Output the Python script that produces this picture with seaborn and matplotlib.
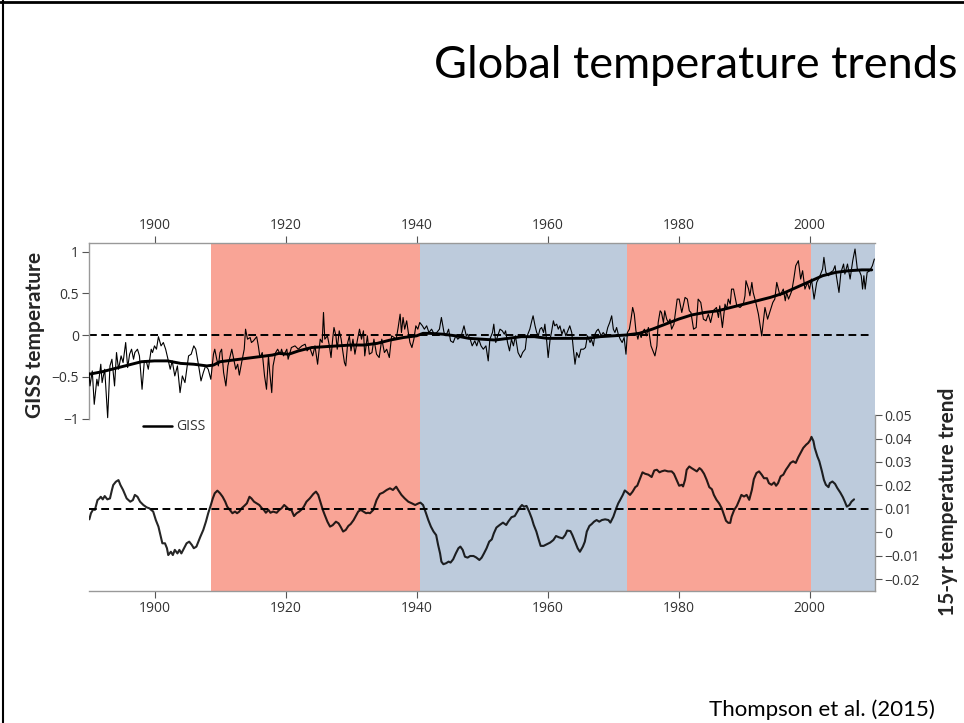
"""
Global temperature trends (GISS) - recreation with seaborn
"""
import matplotlib
matplotlib.use("Agg")
import matplotlib.pyplot as plt
from matplotlib.lines import Line2D
import pandas as pd
import seaborn as sns

# ---- data ----
# thin GISS curve (year, anomaly)
giss_year = [
    1890.0, 1890.15, 1890.5, 1890.8, 1891.2, 1891.4, 1891.8, 1892.0, 1892.4, 1892.85,
    1893.2, 1893.5, 1893.9, 1894.2, 1894.5, 1894.9, 1895.2, 1895.6, 1895.9, 1896.2,
    1896.5, 1896.8, 1897.0, 1897.4, 1897.7, 1898.1, 1898.45, 1898.8, 1899.05, 1899.5,
    1899.7, 1900.0, 1900.3, 1900.6, 1901.0, 1901.35, 1901.7, 1902.0, 1902.4, 1902.7,
    1903.1, 1903.5, 1903.9, 1904.25, 1904.65, 1905.2, 1905.6, 1906.0, 1906.3, 1906.7,
    1907.1, 1907.45, 1907.8, 1908.2, 1908.6, 1909.0, 1909.2, 1909.5, 1909.75, 1910.0,
    1910.25, 1910.55, 1910.9, 1911.2, 1911.5, 1911.8, 1912.0, 1912.4, 1912.7, 1912.95,
    1913.3, 1913.7, 1913.9, 1914.2, 1914.6, 1914.8, 1915.1, 1915.6, 1915.85, 1916.1,
    1916.45, 1916.8, 1917.1, 1917.4, 1917.6, 1917.9, 1918.1, 1918.5, 1918.8, 1919.2,
    1919.4, 1919.7, 1920.2, 1920.4, 1920.9, 1921.45, 1921.95, 1922.5, 1923.0, 1923.3,
    1923.7, 1924.15, 1924.5, 1924.9, 1925.3, 1925.6, 1925.8, 1926.0, 1926.4, 1926.7,
    1926.95, 1927.2, 1927.4, 1927.7, 1927.9, 1928.2, 1928.5, 1928.7, 1929.0, 1929.2,
    1929.5, 1929.75, 1930.0, 1930.3, 1930.6, 1931.0, 1931.3, 1931.6, 1931.9, 1932.1,
    1932.5, 1932.8, 1933.2, 1933.5, 1933.9, 1934.3, 1934.7, 1935.1, 1935.45, 1935.85,
    1936.2, 1936.6, 1936.9, 1937.2, 1937.5, 1937.7, 1937.95, 1938.2, 1938.5, 1938.75,
    1939.0, 1939.3, 1939.6, 1939.9, 1940.2, 1940.5, 1940.9, 1941.2, 1941.55, 1941.9,
    1942.3, 1942.7, 1943.1, 1943.5, 1943.8, 1944.2, 1944.5, 1944.9, 1945.2, 1945.6,
    1946.0, 1946.3, 1946.6, 1946.9, 1947.25, 1947.6, 1947.8, 1948.2, 1948.5, 1948.9,
    1949.2, 1949.5, 1949.85, 1950.2, 1950.6, 1950.95, 1951.2, 1951.6, 1951.8, 1952.1,
    1952.4, 1952.75, 1953.1, 1953.4, 1953.6, 1953.9, 1954.2, 1954.5, 1954.8, 1955.1,
    1955.5, 1955.9, 1956.2, 1956.6, 1956.8, 1957.1, 1957.3, 1957.6, 1957.8, 1958.1,
    1958.35, 1958.6, 1958.85, 1959.1, 1959.4, 1959.6, 1959.9, 1960.1, 1960.4, 1960.6,
    1960.9, 1961.1, 1961.4, 1961.65, 1961.9, 1962.2, 1962.5, 1962.8, 1963.1, 1963.4,
    1963.7, 1963.95, 1964.2, 1964.45, 1964.8, 1965.1, 1965.5, 1965.8, 1966.1, 1966.5,
    1966.7, 1967.0, 1967.25, 1967.5, 1967.75, 1968.2, 1968.5, 1968.9, 1969.2, 1969.5,
    1969.8, 1970.05, 1970.3, 1970.55, 1970.8, 1971.1, 1971.4, 1971.7, 1971.98, 1972.2,
    1972.5, 1972.75, 1973.0, 1973.25, 1973.5, 1973.8, 1974.0, 1974.3, 1974.5, 1974.8,
    1975.1, 1975.4, 1975.8, 1976.2, 1976.4, 1976.7, 1976.9, 1977.2, 1977.4, 1977.7,
    1977.9, 1978.2, 1978.45, 1978.7, 1978.95, 1979.3, 1979.8, 1980.1, 1980.5, 1981.0,
    1981.35, 1981.65, 1981.9, 1982.3, 1982.7, 1983.0, 1983.4, 1983.8, 1984.2, 1984.55,
    1984.9, 1985.3, 1985.8, 1986.1, 1986.3, 1986.7, 1987.1, 1987.35, 1987.6, 1987.9,
    1988.1, 1988.4, 1988.6, 1988.9, 1989.4, 1989.9, 1990.15, 1990.3, 1990.7, 1990.9,
    1991.2, 1991.4, 1991.8, 1992.2, 1992.7, 1993.2, 1993.6, 1994.0, 1994.4, 1994.7,
    1995.0, 1995.25, 1995.5, 1996.0, 1996.3, 1996.5, 1996.8, 1997.3, 1997.6, 1997.9,
    1998.3, 1998.65, 1998.95, 1999.3, 1999.7, 2000.0, 2000.3, 2000.7, 2001.1, 2001.6,
    2002.0, 2002.2, 2002.5, 2002.9, 2003.2, 2003.6, 2003.9, 2004.1, 2004.5, 2004.8,
    2005.2, 2005.4, 2005.8, 2006.2, 2006.6, 2006.95, 2007.3, 2007.6, 2007.9, 2008.1,
    2008.3, 2008.5, 2008.8, 2009.2, 2009.6, 2009.9,
]
giss_temp = [
    -0.45, -0.61, -0.43, -0.83, -0.53, -0.61, -0.35, -0.57, -0.41, -0.99,
    -0.37, -0.29, -0.61, -0.21, -0.41, -0.25, -0.33, -0.09, -0.39, -0.23,
    -0.17, -0.29, -0.21, -0.17, -0.25, -0.65, -0.31, -0.33, -0.41, -0.17,
    -0.21, -0.13, -0.17, -0.02, -0.13, -0.09, -0.17, -0.27, -0.41, -0.31,
    -0.49, -0.37, -0.69, -0.49, -0.57, -0.25, -0.23, -0.13, -0.17, -0.35,
    -0.55, -0.45, -0.37, -0.41, -0.53, -0.23, -0.17, -0.29, -0.37, -0.21,
    -0.17, -0.45, -0.61, -0.37, -0.27, -0.17, -0.25, -0.41, -0.35, -0.48,
    -0.33, -0.17, 0.07, -0.05, -0.03, -0.09, -0.07, -0.02, -0.13, -0.27,
    -0.21, -0.49, -0.65, -0.25, -0.45, -0.69, -0.37, -0.21, -0.17, -0.23,
    -0.17, -0.25, -0.17, -0.29, -0.15, -0.13, -0.17, -0.13, -0.11, -0.19,
    -0.15, -0.25, -0.13, -0.35, -0.05, -0.09, 0.27, -0.05, -0.01, -0.13,
    -0.27, -0.05, 0.09, -0.01, -0.17, 0.05, -0.05, -0.17, -0.33, -0.37,
    -0.09, -0.01, -0.19, -0.05, -0.23, -0.05, 0.07, -0.05, 0.05, -0.25,
    -0.01, -0.23, -0.21, -0.05, -0.23, -0.27, -0.05, -0.21, -0.17, -0.27,
    -0.01, -0.03, -0.05, 0.09, 0.25, 0.03, 0.21, 0.07, 0.17, 0.03,
    -0.09, -0.15, -0.05, 0.11, 0.07, 0.15, 0.11, 0.07, 0.11, 0.03,
    0.07, 0.01, 0.03, 0.07, 0.21, 0.03, -0.01, 0.07, -0.07, -0.09,
    -0.01, -0.05, -0.03, 0.01, 0.11, -0.01, 0.01, -0.05, -0.13, -0.07,
    -0.13, -0.05, -0.13, -0.17, -0.13, -0.31, -0.05, 0.03, 0.13, -0.09,
    -0.01, 0.07, 0.05, 0.01, 0.05, -0.09, -0.19, -0.05, -0.13, -0.01,
    -0.21, -0.27, -0.21, -0.17, -0.03, 0.03, 0.07, 0.17, 0.23, 0.11,
    0.03, -0.01, 0.07, 0.09, 0.03, 0.13, -0.09, -0.27, -0.05, 0.03,
    0.17, 0.11, 0.13, 0.07, 0.11, 0.01, 0.07, -0.01, 0.05, 0.11,
    0.03, -0.17, -0.35, -0.21, -0.27, -0.17, -0.17, -0.15, -0.01, -0.09,
    -0.05, -0.13, 0.01, 0.05, 0.07, -0.01, 0.03, -0.01, 0.09, 0.15,
    0.23, 0.07, 0.03, 0.09, 0.01, -0.05, -0.09, -0.03, -0.23, 0.03,
    0.07, 0.19, 0.33, 0.25, 0.05, -0.05, 0.03, -0.03, 0.03, 0.07,
    -0.01, 0.09, -0.13, -0.21, -0.25, -0.13, 0.15, 0.29, 0.27, 0.15,
    0.29, 0.19, 0.15, 0.19, 0.07, 0.13, 0.43, 0.43, 0.27, 0.45,
    0.43, 0.29, 0.27, 0.07, 0.09, 0.43, 0.39, 0.19, 0.17, 0.25,
    0.15, 0.29, 0.33, 0.21, 0.35, 0.09, 0.37, 0.31, 0.43, 0.37,
    0.55, 0.55, 0.47, 0.35, 0.33, 0.37, 0.47, 0.65, 0.55, 0.47,
    0.63, 0.51, 0.39, 0.25, -0.01, 0.33, 0.19, 0.29, 0.39, 0.43,
    0.63, 0.55, 0.47, 0.55, 0.41, 0.51, 0.43, 0.53, 0.67, 0.83,
    0.89, 0.67, 0.77, 0.55, 0.63, 0.55, 0.67, 0.43, 0.63, 0.71,
    0.79, 0.93, 0.75, 0.71, 0.75, 0.77, 0.83, 0.71, 0.51, 0.75,
    0.85, 0.73, 0.85, 0.67, 0.89, 1.03, 0.79, 0.77, 0.71, 0.55,
    0.71, 0.55, 0.75, 0.77, 0.83, 0.91,
]

# thick smoothed GISS curve
smooth_year = [
    1890, 1892, 1894, 1896, 1898, 1900, 1902, 1904, 1906, 1908, 1909, 1910, 1912,
    1914, 1916, 1918, 1919, 1920.5, 1922, 1924, 1926, 1928, 1930, 1932, 1934, 1936,
    1938, 1940, 1941, 1942, 1944, 1946, 1948, 1950, 1952, 1954, 1956, 1958, 1960,
    1962, 1964, 1966, 1968, 1970, 1972, 1974, 1976, 1978, 1980, 1982, 1984, 1986,
    1988, 1990, 1992, 1994, 1996, 1998, 2000, 2002, 2004, 2006, 2008, 2009.5,
]
smooth_temp = [
    -0.47, -0.44, -0.40, -0.36, -0.32, -0.31, -0.31, -0.34, -0.35, -0.37, -0.36, -0.32, -0.30,
    -0.28, -0.26, -0.24, -0.22, -0.23, -0.19, -0.15, -0.14, -0.13, -0.12, -0.12, -0.10, -0.06,
    -0.03, -0.01, 0.02, 0.02, 0.01, -0.01, -0.04, -0.05, -0.06, -0.04, -0.02, -0.02, -0.04,
    -0.04, -0.04, -0.04, -0.02, -0.01, 0.00, 0.02, 0.07, 0.13, 0.19, 0.24, 0.27, 0.29,
    0.33, 0.37, 0.41, 0.45, 0.50, 0.57, 0.64, 0.71, 0.75, 0.77, 0.78, 0.78,
]

# 15-yr trend curve (units: per year)
trend_year = [
    1890.05, 1890.3, 1890.65, 1890.9, 1891.3, 1891.6, 1891.8, 1892.1, 1892.4, 1892.8,
    1893.2, 1893.5, 1893.7, 1894.1, 1894.5, 1894.8, 1895.2, 1895.75, 1896.3, 1896.7,
    1897.0, 1897.4, 1897.8, 1898.3, 1898.8, 1899.2, 1899.5, 1899.8, 1900.2, 1900.6,
    1900.9, 1901.2, 1901.6, 1901.9, 1902.1, 1902.5, 1902.8, 1903.1, 1903.5, 1903.8,
    1904.1, 1904.5, 1904.9, 1905.3, 1905.7, 1906.0, 1906.4, 1906.7, 1907.0, 1907.45,
    1907.85, 1908.2, 1908.6, 1908.9, 1909.2, 1909.6, 1910.0, 1910.4, 1910.8, 1911.1,
    1911.5, 1911.9, 1912.3, 1912.6, 1912.95, 1913.3, 1913.7, 1914.1, 1914.5, 1914.8,
    1915.2, 1915.6, 1916.0, 1916.4, 1916.7, 1917.0, 1917.4, 1917.7, 1918.1, 1918.65,
    1919.05, 1919.4, 1919.8, 1920.2, 1920.6, 1920.9, 1921.3, 1921.7, 1922.1, 1922.5,
    1922.8, 1923.2, 1923.7, 1924.25, 1924.65, 1925.0, 1925.4, 1925.7, 1926.0, 1926.4,
    1926.8, 1927.2, 1927.7, 1928.1, 1928.4, 1928.8, 1929.2, 1929.6, 1929.95, 1930.4,
    1930.8, 1931.1, 1931.5, 1931.9, 1932.3, 1932.6, 1932.9, 1933.4, 1933.9, 1934.4,
    1934.9, 1935.45, 1935.95, 1936.4, 1936.9, 1937.2, 1937.7, 1938.2, 1938.75, 1939.3,
    1939.8, 1940.3, 1940.6, 1941.0, 1941.45, 1941.8, 1942.2, 1942.6, 1943.0, 1943.3,
    1943.6, 1943.8, 1944.1, 1944.5, 1944.9, 1945.2, 1945.6, 1946.0, 1946.4, 1946.7,
    1947.05, 1947.4, 1947.8, 1948.2, 1948.7, 1949.1, 1949.6, 1949.95, 1950.3, 1950.7,
    1951.1, 1951.5, 1951.8, 1952.2, 1952.7, 1953.2, 1953.7, 1954.0, 1954.5, 1955.0,
    1955.4, 1955.8, 1956.1, 1956.4, 1956.8, 1957.2, 1957.6, 1957.9, 1958.3, 1958.6,
    1958.95, 1959.4, 1959.9, 1960.4, 1960.9, 1961.3, 1961.8, 1962.3, 1962.7, 1963.0,
    1963.5, 1963.8, 1964.2, 1964.6, 1964.95, 1965.4, 1965.7, 1966.0, 1966.4, 1966.75,
    1967.1, 1967.5, 1967.9, 1968.3, 1968.8, 1969.3, 1969.6, 1970.05, 1970.5, 1970.8,
    1971.1, 1971.5, 1971.8, 1972.2, 1972.6, 1973.0, 1973.4, 1973.7, 1974.1, 1974.5,
    1974.9, 1975.4, 1975.9, 1976.3, 1976.7, 1977.1, 1977.4, 1977.9, 1978.4, 1978.96,
    1979.3, 1979.7, 1980.1, 1980.5, 1980.7, 1981.0, 1981.25, 1981.65, 1982.0, 1982.4,
    1982.8, 1983.2, 1983.5, 1983.9, 1984.3, 1984.7, 1985.1, 1985.4, 1985.8, 1986.2,
    1986.6, 1986.95, 1987.25, 1987.6, 1987.9, 1988.1, 1988.5, 1988.9, 1989.3, 1989.6,
    1990.0, 1990.4, 1990.8, 1991.2, 1991.5, 1991.9, 1992.3, 1992.7, 1993.05, 1993.5,
    1993.8, 1994.2, 1994.6, 1994.9, 1995.2, 1995.6, 1996.0, 1996.4, 1996.75, 1997.1,
    1997.5, 1997.9, 1998.3, 1998.65, 1999.05, 1999.5, 1999.8, 2000.1, 2000.3, 2000.6,
    2000.8, 2001.2, 2001.5, 2001.9, 2002.2, 2002.5, 2002.9, 2003.1, 2003.5, 2003.9,
    2004.25, 2004.7, 2005.1, 2005.4, 2005.7, 2006.1, 2006.4, 2006.8,
]
trend_value = [
    0.0056, 0.0082, 0.0099, 0.0096, 0.0138, 0.0145, 0.0152, 0.0141, 0.0155, 0.0141,
    0.0145, 0.0181, 0.0202, 0.0216, 0.0223, 0.0202, 0.0181, 0.0145, 0.0131, 0.0138,
    0.0160, 0.0152, 0.0131, 0.0117, 0.0107, 0.0103, 0.0096, 0.0089, 0.0053, 0.0025,
    -0.0011, -0.0046, -0.0046, -0.0067, -0.0096, -0.0082, -0.0096, -0.0074, -0.0089, -0.0074,
    -0.0089, -0.0067, -0.0046, -0.0039, -0.0053, -0.0067, -0.0060, -0.0039, -0.0018, 0.0011,
    0.0046, 0.0082, 0.0117, 0.0145, 0.0167, 0.0178, 0.0167, 0.0152, 0.0131, 0.0110,
    0.0096, 0.0082, 0.0089, 0.0082, 0.0089, 0.0103, 0.0113, 0.0124, 0.0152, 0.0145,
    0.0131, 0.0124, 0.0117, 0.0103, 0.0096, 0.0084, 0.0096, 0.0084, 0.0089, 0.0084,
    0.0096, 0.0103, 0.0117, 0.0107, 0.0096, 0.0096, 0.0070, 0.0082, 0.0089, 0.0099,
    0.0110, 0.0131, 0.0145, 0.0164, 0.0174, 0.0160, 0.0124, 0.0096, 0.0074, 0.0046,
    0.0025, 0.0031, 0.0046, 0.0039, 0.0025, 0.0004, 0.0011, 0.0028, 0.0036, 0.0053,
    0.0074, 0.0089, 0.0096, 0.0089, 0.0082, 0.0084, 0.0082, 0.0096, 0.0138, 0.0164,
    0.0170, 0.0181, 0.0188, 0.0181, 0.0195, 0.0181, 0.0160, 0.0145, 0.0131, 0.0124,
    0.0117, 0.0124, 0.0127, 0.0117, 0.0082, 0.0053, 0.0025, 0.0004, -0.0011, -0.0053,
    -0.0089, -0.0124, -0.0135, -0.0131, -0.0124, -0.0128, -0.0114, -0.0089, -0.0067, -0.0060,
    -0.0074, -0.0103, -0.0107, -0.0100, -0.0100, -0.0106, -0.0117, -0.0107, -0.0089, -0.0067,
    -0.0039, -0.0029, -0.0004, 0.0021, 0.0032, 0.0042, 0.0032, 0.0046, 0.0065, 0.0070,
    0.0089, 0.0107, 0.0117, 0.0110, 0.0113, 0.0089, 0.0060, 0.0032, 0.0004, -0.0025,
    -0.0057, -0.0057, -0.0050, -0.0043, -0.0032, -0.0015, -0.0021, -0.0025, -0.0011, 0.0008,
    0.0006, -0.0011, -0.0039, -0.0067, -0.0082, -0.0060, -0.0039, 0.0004, 0.0028, 0.0036,
    0.0046, 0.0053, 0.0046, 0.0053, 0.0056, 0.0053, 0.0042, 0.0067, 0.0103, 0.0124,
    0.0139, 0.0160, 0.0179, 0.0170, 0.0160, 0.0174, 0.0193, 0.0199, 0.0227, 0.0256,
    0.0250, 0.0246, 0.0236, 0.0264, 0.0267, 0.0256, 0.0260, 0.0264, 0.0260, 0.0260,
    0.0250, 0.0224, 0.0199, 0.0203, 0.0196, 0.0224, 0.0267, 0.0281, 0.0274, 0.0267,
    0.0260, 0.0274, 0.0267, 0.0250, 0.0224, 0.0193, 0.0184, 0.0160, 0.0139, 0.0124,
    0.0103, 0.0074, 0.0050, 0.0041, 0.0041, 0.0067, 0.0096, 0.0113, 0.0139, 0.0160,
    0.0153, 0.0160, 0.0139, 0.0181, 0.0227, 0.0253, 0.0260, 0.0246, 0.0231, 0.0231,
    0.0210, 0.0203, 0.0213, 0.0199, 0.0210, 0.0239, 0.0246, 0.0267, 0.0281, 0.0296,
    0.0303, 0.0296, 0.0321, 0.0339, 0.0360, 0.0374, 0.0381, 0.0393, 0.0407, 0.0389,
    0.0360, 0.0324, 0.0303, 0.0260, 0.0224, 0.0203, 0.0193, 0.0210, 0.0217, 0.0207,
    0.0189, 0.0170, 0.0150, 0.0131, 0.0110, 0.0117, 0.0131, 0.0141,
]

# warming / hiatus periods used for the shading
period_start = [1908.6, 1940.5, 1972.1, 2000.2]
period_end = [1940.5, 1972.1, 2000.2, 2010.0]
period_color = ["#F9A496", "#BDCBDC", "#F9A496", "#BDCBDC"]

temp_ticks = [-1, -0.5, 0, 0.5, 1]
temp_labels = ["\u22121", "\u22120.5", "0", "0.5", "1"]
trend_ticks = [0.05, 0.04, 0.03, 0.02, 0.01, 0, -0.01, -0.02]
trend_labels = ["0.05", "0.04", "0.03", "0.02", "0.01", "0", "\u22120.01", "\u22120.02"]
year_ticks = [1900, 1920, 1940, 1960, 1980, 2000]

# ---- style ----
sns.set_theme(style="white")
plt.rcParams["font.family"] = ["Open Sans", "DejaVu Sans"]

W, H = 964, 723
fig = plt.figure(figsize=(W / 100, H / 100), dpi=100)
fig.patch.set_facecolor("white")

# axes box in pixels: x 89..875, y 243..591
ax1 = fig.add_axes([89 / W, 1 - 591 / H, 786 / W, 348 / H])
ax2 = ax1.twinx()

for s, e, c in zip(period_start, period_end, period_color):
    ax1.axvspan(s, e, color=c, lw=0, zorder=0)

giss = pd.DataFrame({"year": giss_year, "temp": giss_temp})
smooth = pd.DataFrame({"year": smooth_year, "temp": smooth_temp})
trend = pd.DataFrame({"year": trend_year, "trend": trend_value})

sns.lineplot(data=giss, x="year", y="temp", ax=ax1, color="black",
             linewidth=0.8, estimator=None, zorder=3)
sns.lineplot(data=smooth, x="year", y="temp", ax=ax1, color="black",
             linewidth=2.1, estimator=None, zorder=4)
ax1.hlines(0, 1890, 2009.3, colors="black", linewidth=1.4,
           linestyles=(0, (4, 2.3)), zorder=2)

sns.lineplot(data=trend, x="year", y="trend", ax=ax2, color="black", alpha=0.85,
             linewidth=1.5, estimator=None, zorder=3)
ax2.hlines(0.01, 1890, 2009.3, colors="black", linewidth=1.4,
           linestyles=(0, (4, 2.3)), zorder=2)

# ---- axes ----
tick_col = "#333333"
spine_col = "#999999"

ax1.set_xlim(1890, 2010)
ax1.set_ylim(-3.066, 1.102)
ax2.set_ylim(-0.0249, 0.1232)

ax1.set_xticks(year_ticks)
ax1.set_xticklabels([str(y) for y in year_ticks])
ax1.tick_params(axis="x", top=True, labeltop=True, bottom=True, labelbottom=True,
                direction="out", length=5, width=0.8, color="#555555",
                labelsize=10, labelcolor=tick_col, pad=2)
ax1.set_yticks(temp_ticks)
ax1.set_yticklabels(temp_labels)
ax1.tick_params(axis="y", left=True, direction="out", length=5, width=0.8,
                color="#555555", labelsize=10, labelcolor=tick_col, pad=2)
ax2.set_yticks(trend_ticks)
ax2.set_yticklabels(trend_labels)
ax2.tick_params(axis="y", right=True, direction="out", length=5, width=0.8,
                color="#555555", labelsize=10, labelcolor=tick_col, pad=2)

ax1.set_xlabel("")
ax1.set_ylabel("")
ax2.set_ylabel("")
ax1.grid(False)
ax2.grid(False)

ax1.spines["right"].set_visible(False)
ax1.spines["left"].set_bounds(-1, 1.102)
for side in ["left", "top", "bottom"]:
    ax2.spines[side].set_visible(False)
ax2.spines["right"].set_bounds(-0.0249, 0.05)
for sp in [ax1.spines["left"], ax1.spines["top"], ax1.spines["bottom"], ax2.spines["right"]]:
    sp.set_color(spine_col)
    sp.set_linewidth(1.0)

# legend
handle = Line2D([], [], color="black", linewidth=1.8)
ax1.legend([handle], ["GISS"], loc="center left", frameon=False,
           bbox_to_anchor=(143 / W, 1 - 427 / H), bbox_transform=fig.transFigure,
           borderpad=0, borderaxespad=0, handlelength=2.1, handletextpad=0.25,
           fontsize=10, labelcolor=tick_col)

# ---- text ----
fig.text(958 / W, 1 - 78 / H, "Global temperature trends", ha="right", va="baseline",
         fontsize=32.5, family=["Lato", "DejaVu Sans"], color="black")
fig.text(935 / W, 1 - 716 / H, "Thompson et al. (2015)", ha="right", va="baseline",
         fontsize=16, family=["Lato", "DejaVu Sans"], color="black")
fig.text(35 / W, 1 - 335 / H, "GISS temperature", rotation=90, ha="center", va="center",
         fontsize=15, fontweight="bold", family=["Lato", "DejaVu Sans"])
fig.text(948 / W, 1 - 502 / H, "15-yr temperature trend", rotation=90, ha="center",
         va="center", fontsize=15, fontweight="bold", family=["Lato", "DejaVu Sans"])

# slide frame (top and left edge)
fig.add_artist(Line2D([0, 1], [1 - 1.5 / H, 1 - 1.5 / H], transform=fig.transFigure,
                      color="black", linewidth=2))
fig.add_artist(Line2D([3 / W, 3 / W], [0, 1], transform=fig.transFigure,
                      color="black", linewidth=1.5))

fig.savefig("out.png", dpi=100)
